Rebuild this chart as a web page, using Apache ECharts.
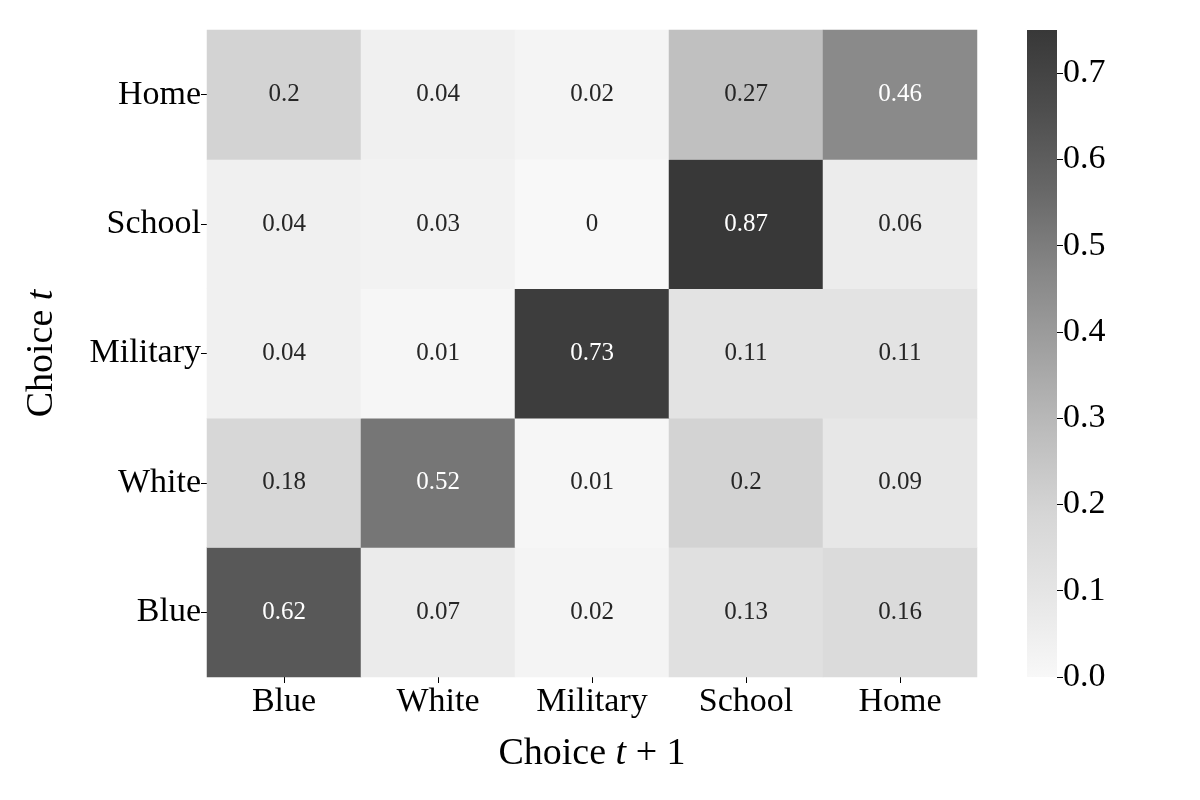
<!DOCTYPE html>
<html>
<head>
<meta charset="utf-8">
<script src="https://cdn.jsdelivr.net/npm/echarts@6/dist/echarts.min.js"></script>
<style>
  html, body { margin: 0; padding: 0; background: #fff; }
  #chart { width: 1200px; height: 800px; }
</style>
</head>
<body>
<div id="chart"></div>
<script>
// categories (x: choice t+1, y: choice t, bottom to top)
var nextChoices = ['Blue', 'White', 'Military', 'School', 'Home'];
var curChoices = ['Blue', 'White', 'Military', 'School', 'Home'];

// transition probabilities, one row per choice t (same order as curChoices)
var rowBlue     = [0.62, 0.07, 0.02, 0.13, 0.16];
var rowWhite    = [0.18, 0.52, 0.01, 0.2, 0.09];
var rowMilitary = [0.04, 0.01, 0.73, 0.11, 0.11];
var rowSchool   = [0.04, 0.03, 0, 0.87, 0.06];
var rowHome     = [0.2, 0.04, 0.02, 0.27, 0.46];

// colour scale
var scaleMin = 0;
var scaleMax = 0.75;
var barTicks = [0, 0.1, 0.2, 0.3, 0.4, 0.5, 0.6, 0.7];
var greys = ['#f8f8f8', '#e6e6e6', '#d6d6d6', '#bdbdbd', '#a2a2a2', '#878787', '#686868', '#4e4e4e', '#383838'];

var FONT = '"Liberation Serif", "DejaVu Serif", serif';

var rows = [rowBlue, rowWhite, rowMilitary, rowSchool, rowHome];
var cells = [];
rows.forEach(function (row, yi) {
  row.forEach(function (v, xi) {
    cells.push([xi, yi, v]);
  });
});

var stops = greys.map(function (c, i) {
  return { offset: 1 - i / (greys.length - 1), color: c };
});

var chart = echarts.init(document.getElementById('chart'));
var option = {
  backgroundColor: '#fff',
  animation: false,
  grid: [
    { left: 207, right: 223, top: 30, bottom: 123 },
    { left: 1027, width: 30, top: 30, bottom: 123 }
  ],
  xAxis: [
    {
      type: 'category', gridIndex: 0, data: nextChoices,
      name: '{n|Choice }{i|t}{n| + 1}', nameLocation: 'middle', nameGap: 58,
      nameTextStyle: {
        rich: {
          n: { fontFamily: FONT, fontSize: 38, color: '#000' },
          i: { fontFamily: FONT, fontSize: 38, fontStyle: 'italic', color: '#000' }
        }
      },
      axisLine: { show: false },
      axisTick: { show: true, alignWithLabel: true, length: 6, lineStyle: { color: '#000' } },
      axisLabel: { fontFamily: FONT, fontSize: 34, color: '#000', margin: 8 },
      splitLine: { show: false }
    },
    {
      type: 'category', gridIndex: 1, data: [''], show: false
    }
  ],
  yAxis: [
    {
      type: 'category', gridIndex: 0, data: curChoices,
      name: '{n|Choice }{i|t}', nameLocation: 'middle', nameGap: 146, nameRotate: 90,
      nameTextStyle: {
        rich: {
          n: { fontFamily: FONT, fontSize: 38, color: '#000' },
          i: { fontFamily: FONT, fontSize: 38, fontStyle: 'italic', color: '#000' }
        }
      },
      axisLine: { show: false },
      axisTick: { show: true, alignWithLabel: true, length: 6, lineStyle: { color: '#000' } },
      axisLabel: { fontFamily: FONT, fontSize: 34, color: '#000', margin: 6 },
      splitLine: { show: false }
    },
    {
      type: 'value', gridIndex: 1, position: 'right',
      min: scaleMin, max: scaleMax,
      axisLine: { show: false },
      axisTick: { show: true, length: 6, lineStyle: { color: '#000' }, customValues: barTicks },
      axisLabel: {
        fontFamily: FONT, fontSize: 34, color: '#000', margin: 6,
        customValues: barTicks,
        formatter: function (v) { return v.toFixed(1); }
      },
      splitLine: { show: false }
    }
  ],
  visualMap: {
    show: false, type: 'continuous', seriesIndex: 0,
    min: scaleMin, max: scaleMax, inRange: { color: greys }
  },
  series: [
    {
      type: 'heatmap', xAxisIndex: 0, yAxisIndex: 0,
      data: cells,
      itemStyle: { borderWidth: 0 },
      label: {
        show: true,
        formatter: function (p) {
          var v = p.value[2];
          return (v >= 0.4 ? '{w|' : '{d|') + String(v) + '}';
        },
        rich: {
          w: { fontFamily: FONT, fontSize: 25, color: '#ffffff' },
          d: { fontFamily: FONT, fontSize: 25, color: '#262626' }
        }
      },
      emphasis: { disabled: true }
    },
    {
      type: 'bar', xAxisIndex: 1, yAxisIndex: 1,
      data: [scaleMax], barWidth: '100%',
      itemStyle: {
        color: new echarts.graphic.LinearGradient(0, 0, 0, 1, stops)
      },
      silent: true
    }
  ]
};
chart.setOption(option);
</script>
</body>
</html>
